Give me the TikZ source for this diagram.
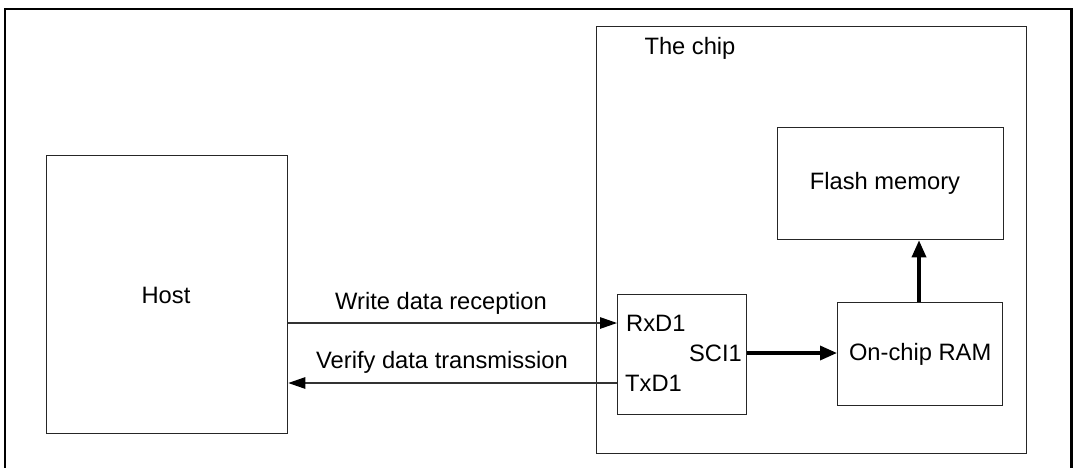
\documentclass[tikz,border=0pt]{standalone}
\usepackage{fontspec}
\setmainfont{Liberation Sans}
\usetikzlibrary{arrows.meta}
\begin{document}
\begin{tikzpicture}[x=1pt,y=-1pt,
  box/.style={draw=black!85,line width=1.3pt,inner sep=0pt},
  lbl/.style={font=\fontsize{23.7}{28}\selectfont,inner sep=0pt},
  thin/.style={draw=black!80,line width=1.2pt},
  thinarrow/.style={thin,-{Triangle[length=17pt,width=11.5pt,color=black]}},
  thickarrow/.style={line width=3.4pt,-{Triangle[length=17pt,width=14pt]}}]
\useasboundingbox (0,0) rectangle (1073,467);
% outer frame (open at the bottom)
\draw[line width=2.4pt] (5,480) -- (5,9) -- (1071.5,9) -- (1071.5,480);
% chip
\node[box,minimum width=430pt,minimum height=427pt,anchor=north west] (chip) at (596,26) {};
\node[lbl] (chiplbl) at (690,48) {The chip};
% host
\node[box,minimum width=241pt,minimum height=278pt,anchor=north west] (host) at (46,155) {};
\node[lbl] (hostlbl) at (166,295) {Host};
% flash
\node[box,minimum width=226pt,minimum height=112pt,anchor=north west] (flash) at (777,127) {};
\node[lbl] (flashlbl) at (885,183) {Flash memory};
% RAM
\node[box,minimum width=165pt,minimum height=103pt,anchor=north west] (ram) at (837,302) {};
\node[lbl] (ramlbl) at (ram.center) {On-chip RAM};
% SCI
\node[box,minimum width=129pt,minimum height=120pt,anchor=north west] (sci) at (617,294) {};
\node[lbl,anchor=west] (rxd) at (626,323) {RxD1};
\node[lbl,anchor=west] (txd) at (625,383) {TxD1};
\node[lbl,anchor=east] (scilbl) at (742,353) {SCI1};
% connectors
\coordinate (hw) at (host.east |- 0,323);
\coordinate (sw) at (sci.west |- 0,323);
\coordinate (hv) at (host.east |- 0,383);
\coordinate (sv) at (sci.west |- 0,383);
\draw[thinarrow] (hw) -- (sw);
\draw[thinarrow] (sv) -- (hv);
\node[lbl] (wlbl) at (441,303) {Write data reception};
\node[lbl] (vlbl) at (442,362) {Verify data transmission};
\coordinate (se) at (sci.east |- 0,353);
\coordinate (re) at (ram.west |- 0,353);
\draw[thickarrow] (se) -- (re);
\draw[thickarrow] (ram.north -| 919,0) -- (flash.south -| 919,0);
\end{tikzpicture}
\end{document}
